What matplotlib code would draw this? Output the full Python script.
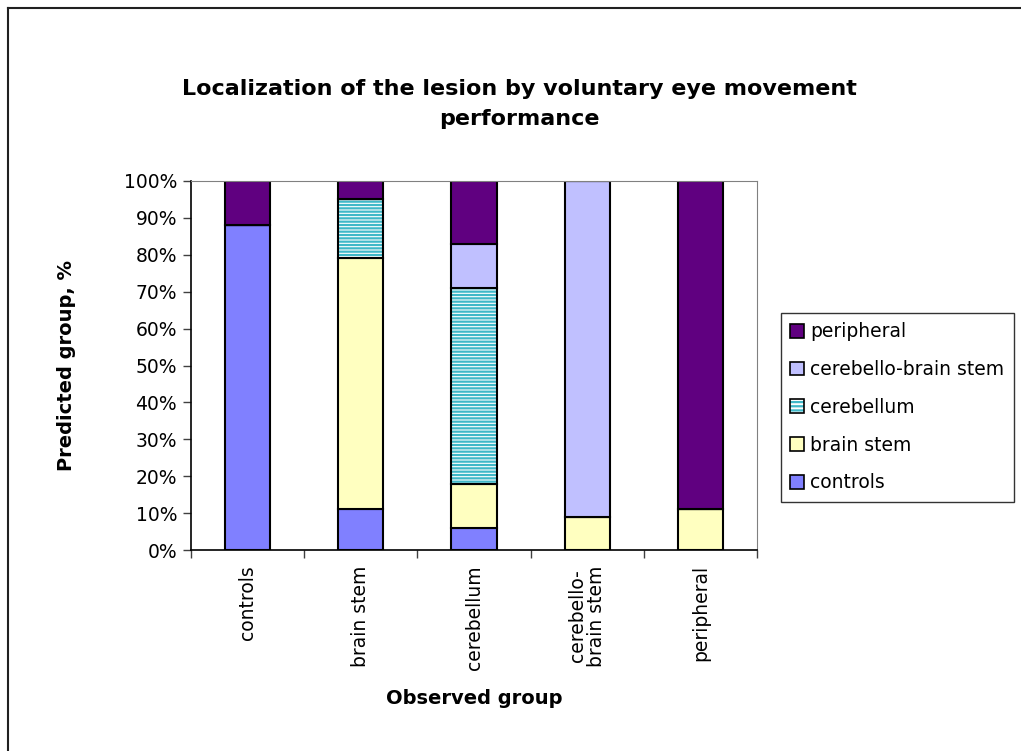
import numpy as np
import matplotlib.pyplot as plt
import matplotlib.patches as mpatches
from matplotlib.lines import Line2D
from matplotlib.ticker import PercentFormatter

plt.rcParams['font.family'] = ['DejaVu Sans']
plt.rcParams['hatch.linewidth'] = 1.6

groups = ['controls', 'brain stem', 'cerebellum', 'cerebello-\nbrain stem', 'peripheral']
series = ['controls', 'brain stem', 'cerebellum', 'cerebello-brain stem', 'peripheral']

# predicted group shares (%) per observed group
controls = [88, 11, 6, 0, 0]
brain_stem = [0, 68, 12, 9, 11]
cerebellum = [0, 16, 53, 0, 0]
cerebello_bs = [0, 0, 12, 91, 0]
peripheral = [12, 5, 17, 0, 89]
values = [controls, brain_stem, cerebellum, cerebello_bs, peripheral]

colors = ['#8080FF', '#FFFFC0', '#FFFFFF', '#C0C0FF', '#600080']
teal = '#3FB8C8'

W, H = 1021, 751
fig = plt.figure(figsize=(W / 100, H / 100), dpi=100)
ax = fig.add_axes([191 / W, 1 - 550 / H, (757 - 191) / W, (550 - 181) / H])

x = np.arange(len(groups))
bottom = np.zeros(len(groups))
handles = []
for name, vals, col in zip(series, values, colors):
    vals = np.array(vals, dtype=float)
    if name == 'cerebellum':
        ax.bar(x, vals, 0.4, bottom=bottom, color='white', edgecolor=teal,
               hatch='-----', linewidth=0)
        ax.bar(x, vals, 0.4, bottom=bottom, fill=False, edgecolor='black', linewidth=1.5)
        h = (mpatches.Patch(facecolor='white', edgecolor=teal, hatch='----', linewidth=0),
             mpatches.Patch(fill=False, edgecolor='black', linewidth=1.2))
    else:
        ax.bar(x, vals, 0.4, bottom=bottom, color=col, edgecolor='black', linewidth=1.5)
        h = mpatches.Patch(facecolor=col, edgecolor='black', linewidth=1.2)
    handles.append(h)
    bottom += vals

ax.set_xlim(-0.5, 4.5)
ax.set_ylim(0, 100)
ax.set_yticks(np.arange(0, 101, 10))
ax.yaxis.set_major_formatter(PercentFormatter(decimals=0))
ax.set_xticks(np.arange(-0.5, 5, 1))
ax.set_xticklabels([])
ax.set_xticks(x, minor=True)
ax.set_xticklabels(groups, minor=True, rotation=90, fontsize=13.5, va='top', ha='center',
                   linespacing=1.0)
ax.tick_params(axis='x', which='minor', length=0, pad=11)
ax.tick_params(axis='x', which='major', length=6, width=1, color='#404040')
ax.tick_params(axis='y', length=6, width=1, labelsize=13.5, color='#404040', pad=4)
for s in ['top', 'right']:
    ax.spines[s].set_color('#808080')
for s in ['left', 'bottom']:
    ax.spines[s].set_color('black')
    ax.spines[s].set_linewidth(1.2)

ax.set_ylabel('Predicted group, %', fontsize=14, fontweight='bold')
ax.yaxis.set_label_coords((66 - 191) / 566, 0.5)
ax.set_xlabel('Observed group', fontsize=14, fontweight='bold')
ax.xaxis.set_label_coords(0.5, (550 - 698) / 369)
ax.xaxis.label.set_va('center')
ax.yaxis.label.set_va('center')

fig.text(519 / W, 1 - 95 / H, 'Localization of the lesion by voluntary eye movement',
         ha='center', va='baseline', fontsize=16, fontweight='bold')
fig.text(519 / W, 1 - 125 / H, 'performance',
         ha='center', va='baseline', fontsize=16, fontweight='bold')

leg = ax.legend(handles[::-1], series[::-1], loc='upper left',
                bbox_to_anchor=(781 / W, 1 - 313 / H), bbox_transform=fig.transFigure,
                fontsize=13.5, frameon=True, fancybox=False, edgecolor='black',
                handlelength=0.75, handleheight=0.75, handletextpad=0.32,
                labelspacing=1.0, borderpad=0.5, borderaxespad=0)
leg.get_frame().set_linewidth(1)

# chart area frame (only top and left edges fall inside the image)
fig.add_artist(Line2D([8 / W, 8 / W], [0, 1 - 8 / H], transform=fig.transFigure,
                      color='#202020', linewidth=1.5))
fig.add_artist(Line2D([8 / W, 1], [1 - 8 / H, 1 - 8 / H], transform=fig.transFigure,
                      color='#202020', linewidth=1.5))

fig.savefig('out.png', dpi=100)
